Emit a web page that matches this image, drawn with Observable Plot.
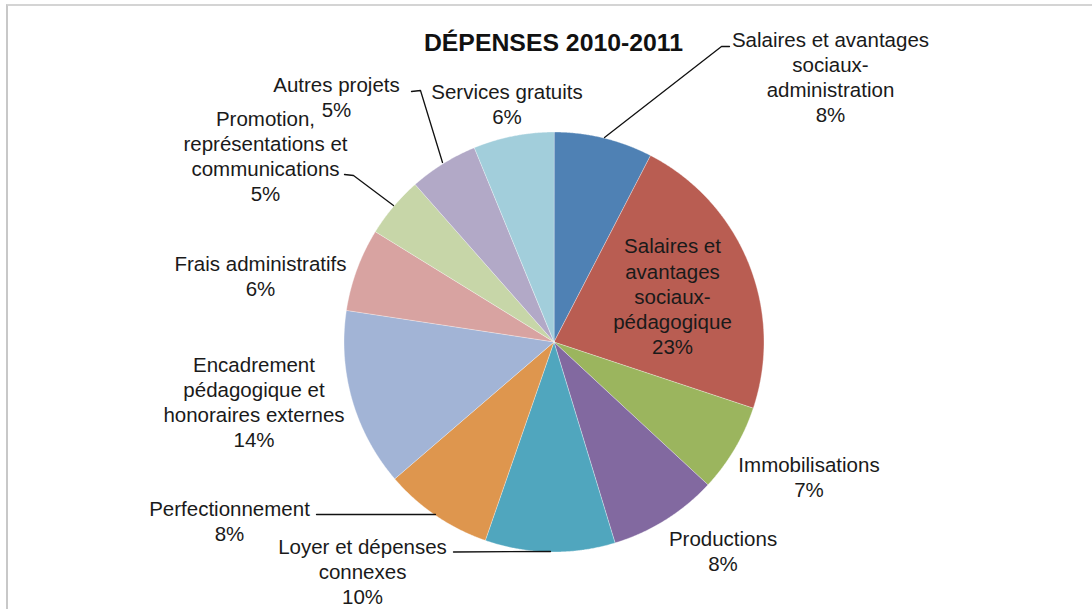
<!DOCTYPE html>
<html>
<head>
<meta charset="utf-8">
<script src="https://cdn.jsdelivr.net/npm/d3@7"></script>
<script src="https://cdn.jsdelivr.net/npm/@observablehq/plot@0.6"></script>
<style>
  html, body { margin: 0; padding: 0; background: #fff; }
  #wrap { position: relative; width: 1092px; height: 609px; overflow: hidden; }
  #frame { position: absolute; left: 6px; top: 4px; width: 1100px; height: 620px;
           border-top: 2px solid #d4d4d4; border-left: 2px solid #c8c8c8; }
  #chart { position: absolute; left: 0; top: 0; }
  #chart svg { background: transparent; }
</style>
</head>
<body>
<div id="wrap"><div id="frame"></div><div id="chart"></div></div>
<script>
// ---- data ----
const title = "DÉPENSES 2010-2011";
const categories = [
  "Salaires et avantages sociaux-administration",
  "Salaires et avantages sociaux-pédagogique",
  "Immobilisations",
  "Productions",
  "Loyer et dépenses connexes",
  "Perfectionnement",
  "Encadrement pédagogique et honoraires externes",
  "Frais administratifs",
  "Promotion, représentations et communications",
  "Autres projets",
  "Services gratuits"
];
const values = [7.6, 22.5, 6.8, 8.4, 10.0, 8.4, 13.7, 6.4, 4.7, 5.3, 6.2];
// label text as wrapped in the chart
const labelText = [
  "Salaires et avantages\nsociaux-\nadministration",
  "Salaires et\navantages\nsociaux-\npédagogique",
  "Immobilisations",
  "Productions",
  "Loyer et dépenses\nconnexes",
  "Perfectionnement",
  "Encadrement\npédagogique et\nhonoraires externes",
  "Frais administratifs",
  "Promotion,\nreprésentations et\ncommunications",
  "Autres projets",
  "Services gratuits"
];
const colors = ["#4F81B4", "#B95D52", "#9BB55E", "#8269A0", "#50A6BE", "#DE964E",
                "#A2B4D6", "#D8A3A1", "#C7D6A8", "#B2A9C7", "#A2CEDB"];

// ---- layout (pixels) ----
const W = 1092, H = 609;
const CX = 553.5, CY = 341.5, R = 210;
const labelPos = [
  [830, 75.5], [672, 295], [808.5, 476], [722.5, 550], [362, 570.5], [229, 519.5],
  [253.5, 401], [260, 275], [265, 155], [336, 96], [506.5, 103]
];
// leader lines (polyline vertices)
const leaders = [
  {i: 0, pts: [[729, 46], [721, 46], [604, 137]]},
  {i: 9, pts: [[411, 91], [420, 90], [442, 162]]},
  {i: 8, pts: [[344, 174], [353, 175], [393, 205]]},
  {i: 5, pts: [[316, 514], [435, 514]]},
  {i: 4, pts: [[453, 551.5], [550, 551]]}
];

// ---- build ----
const arcs = d3.pie().sort(null).value(d => d)(values);
const slices = arcs.map((a, i) => {
  const n = Math.max(4, Math.ceil((a.endAngle - a.startAngle) / 0.005));
  const ring = [[CX, CY]];
  for (let k = 0; k <= n; k++) {
    const t = a.startAngle + (a.endAngle - a.startAngle) * k / n;
    ring.push([CX + R * Math.sin(t), CY - R * Math.cos(t)]);
  }
  ring.push([CX, CY]);
  return {type: "Feature", properties: {i, name: categories[i]},
          geometry: {type: "Polygon", coordinates: [ring]}};
});

const labels = values.map((v, i) => ({
  text: labelText[i] + "\n" + Math.round(v) + "%",
  x: labelPos[i][0], y: labelPos[i][1]
}));
const leaderRows = leaders.flatMap(l => l.pts.map(p => ({id: l.i, x: p[0], y: p[1]})));

const FONT = "'Liberation Sans', Arial, Helvetica, sans-serif";

const plot = Plot.plot({
  width: W, height: H, margin: 0,
  projection: d3.geoIdentity(),
  style: {fontFamily: FONT, background: "transparent"},
  marks: [
    Plot.geo(slices, {fill: d => colors[d.properties.i], stroke: "#ffffff", strokeWidth: 0.6, strokeOpacity: 0.6}),
    Plot.line(leaderRows, {x: "x", y: "y", z: "id", stroke: "#111", strokeWidth: 1.3}),
    Plot.text(labels, {x: "x", y: "y", text: "text", fontSize: 20.5, lineHeight: 1.22,
      lineAnchor: "middle", textAnchor: "middle", fill: "#1a1a1a", fontFamily: FONT}),
    Plot.text([title], {x: [CX - 0.5], y: [42.5], text: d => d, fontSize: 24.8, fontWeight: "bold",
      textAnchor: "middle", fill: "#111", fontFamily: FONT})
  ]
});
document.getElementById("chart").appendChild(plot);
</script>
</body>
</html>
